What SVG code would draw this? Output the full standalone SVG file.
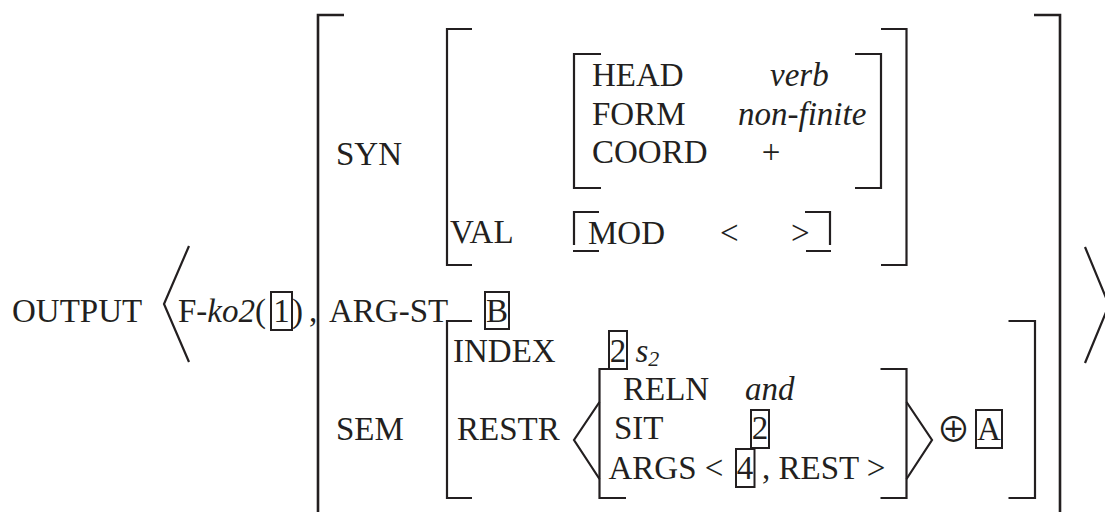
<svg xmlns="http://www.w3.org/2000/svg" width="1105" height="512" viewBox="0 0 1105 512">
<style>
text{font-family:"Liberation Serif","Times New Roman",serif;font-size:33px;fill:#231f20}
.i{font-style:italic}
.br{fill:none;stroke:#231f20;stroke-width:2.2}
.ob{fill:none;stroke:#231f20;stroke-width:2.6}
.bx{fill:none;stroke:#231f20;stroke-width:2}
.m{text-anchor:middle}
.op{font-family:"Noto Sans CJK SC","DejaVu Sans",sans-serif;font-size:34px}
</style>
<rect width="1105" height="512" fill="#fff"/>
<g id="output">
<text x="12" y="322">OUTPUT</text>
<path class="br" d="M189 246 L164 304 L189 362"/>
<path class="br" d="M1085 247 L1109 305 L1085 363"/>
<text x="178" y="322">F-<tspan class="i">ko2</tspan>(</text>
<rect class="bx" x="271" y="292" width="21" height="38"/>
<text class="m" x="281.5" y="322">1</text>
<text x="292" y="322">)</text>
<text x="309" y="322">,</text>
</g>
<g id="outer-avm">
<path class="ob" d="M344 15 H318 V512"/>
<path class="ob" d="M1034 15 H1060 V512"/>
<text x="336" y="165">SYN</text>
<text x="329" y="322">ARG-ST</text>
<rect class="bx" x="485" y="292" width="24" height="37"/>
<text class="m" x="497" y="322">B</text>
<text x="336" y="440">SEM</text>
</g>
<g id="syn-avm">
<path class="br" d="M472 29 H447 V265 H472"/>
<path class="br" d="M881 29 H906.5 V265 H881"/>
<text x="450" y="243">VAL</text>
</g>
<g id="head-avm">
<path class="br" d="M601 54 H574 V188 H601"/>
<path class="br" d="M855 54 H881 V188 H855"/>
<text x="592" y="86">HEAD</text>
<text class="i" x="770" y="86">verb</text>
<text x="592" y="125">FORM</text>
<text class="i" x="738" y="125">non-finite</text>
<text x="592" y="163">COORD</text>
<text class="m" x="771" y="163">+</text>
</g>
<g id="val-avm">
<path class="br" d="M599 212 H574 V245 M573 251 H599"/>
<path class="br" d="M805 212 H830 V245 M806 251 H831"/>
<text x="588" y="244">MOD</text>
<text x="720" y="244">&lt;</text>
<text x="791" y="244">&gt;</text>
</g>
<g id="sem-avm">
<path class="br" d="M472 321 H447 V498 H472"/>
<path class="br" d="M1008.5 321 H1035 V498 H1008.5"/>
<text x="453" y="362">INDEX</text>
<rect class="bx" x="609" y="331" width="18" height="38"/>
<text class="m" x="618" y="362">2</text>
<text class="i" x="635.5" y="362">s<tspan font-size="22" dy="4">2</tspan></text>
<text x="457" y="440">RESTR</text>
<path class="br" d="M599.5 402 L574 440 L599.5 479"/>
<path class="br" d="M906.5 402 L932 440 L906.5 479"/>
<text class="op m" x="953.5" y="442">⊕</text>
<rect class="bx" x="976" y="410" width="26" height="38"/>
<text class="m" x="989" y="440">A</text>
</g>
<g id="restr-avm">
<path class="br" d="M626 369 H599.5 V498 H626"/>
<path class="br" d="M880.5 369 H906.5 V498 H880.5"/>
<text x="623" y="400">RELN</text>
<text class="i" x="745" y="400">and</text>
<text x="614" y="439">SIT</text>
<rect class="bx" x="751" y="410" width="18" height="38"/>
<text class="m" x="760" y="439">2</text>
<text x="608.5" y="479">ARGS &lt;</text>
<rect class="bx" x="736" y="449" width="18.5" height="38"/>
<text class="m" x="745" y="479">4</text>
<text x="762" y="479">, REST &gt;</text>
</g>
<g id="connectors"/>
</svg>
